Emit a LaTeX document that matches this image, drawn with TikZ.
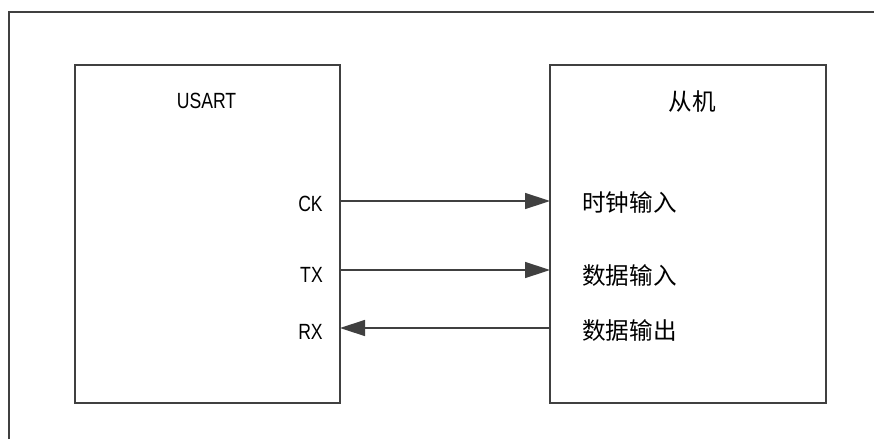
\documentclass[tikz,border=0pt]{standalone}
\usepackage{fontspec}
\setmainfont{Liberation Sans}[FakeStretch=0.8]
\newfontfamily\cjk{Noto Sans CJK SC}
\usetikzlibrary{arrows.meta}
\begin{document}
\begin{tikzpicture}[x=0.75pt,y=-0.75pt,
  frame/.style={draw=black!75, line width=1.5pt},
  blk/.style={draw=black!75, line width=1.4pt, inner sep=0pt, outer sep=0pt, minimum height=253.5pt},
  lat/.style={font=\fontsize{16.5pt}{19pt}\selectfont, inner sep=0pt, text=black},
  zh/.style={font=\cjk\fontsize{17.7pt}{20pt}\selectfont, inner sep=0pt, text=black},
  arr/.style={draw=black!75, line width=1.1pt, -{Triangle[length=18.75pt,width=12pt]}, fill=black!75}]
\useasboundingbox (0,0) rectangle (874,439);
\draw[frame] (9,439) -- (9,12) -- (874,12);
\node[blk, minimum width=198.75pt] (usart) at (207.5,234) {};
\node[blk, minimum width=207pt] (slave) at (688,234) {};
\node[lat] (title1) at (206.5,101) {USART};
\node[zh] (title2) at (692,102) {从机};
\node[lat, anchor=east] (ck) at (323,203.5) {CK};
\node[lat, anchor=east] (tx) at (323,275) {TX};
\node[lat, anchor=east] (rx) at (323,331.5) {RX};
\node[zh, anchor=west] (clkin) at (582,203) {时钟输入};
\node[zh, anchor=west] (datin) at (582,276) {数据输入};
\node[zh, anchor=west] (datout) at (582,331) {数据输出};
\coordinate (ckline) at (0,201);
\coordinate (txline) at (0,270);
\coordinate (rxline) at (0,328);
\draw[arr] (usart.east |- ckline) -- (slave.west |- ckline);
\draw[arr] (usart.east |- txline) -- (slave.west |- txline);
\draw[arr] (slave.west |- rxline) -- (usart.east |- rxline);
\end{tikzpicture}
\end{document}
